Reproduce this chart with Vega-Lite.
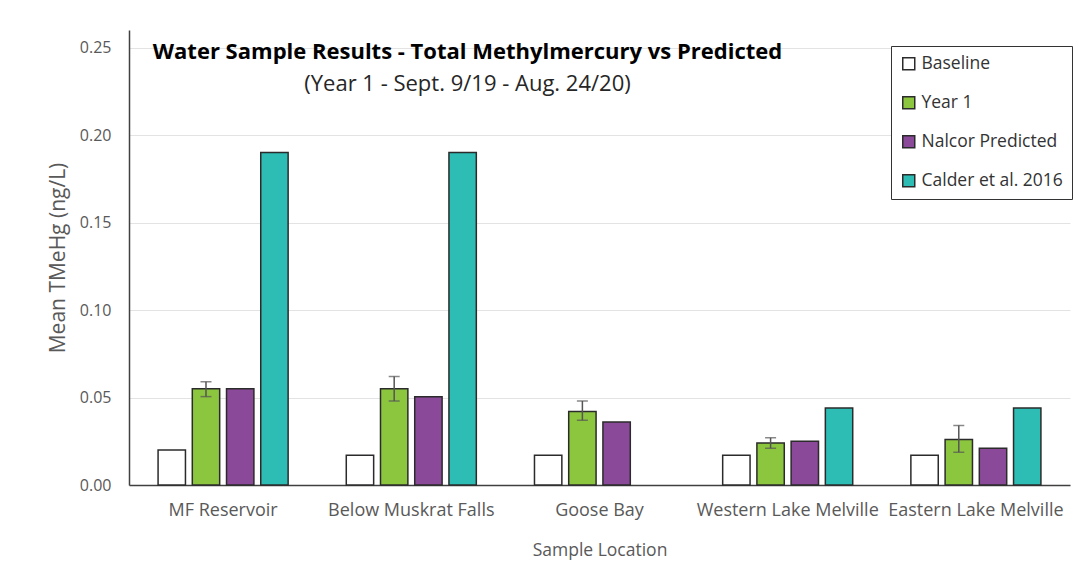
{
  "$schema": "https://vega.github.io/schema/vega-lite/v6.json",
  "autosize": "none",
  "width": 941,
  "height": 455,
  "padding": {"left": 129, "top": 30, "right": 14, "bottom": 96},
  "background": "white",
  "config": {
    "font": "Open Sans",
    "view": {"stroke": null},
    "axis": {"labelColor": "#595959", "titleColor": "#595959", "labelFont": "Open Sans", "titleFont": "Open Sans", "titleFontWeight": "normal"}
  },
  "title": {
    "text": "Water Sample Results - Total Methylmercury vs Predicted",
    "subtitle": "(Year 1 - Sept. 9/19 - Aug. 24/20)",
    "anchor": "middle",
    "frame": "group",
    "orient": "top",
    "offset": -66,
    "dx": -132,
    "font": "Open Sans",
    "fontSize": 22,
    "fontWeight": "bold",
    "color": "#000000",
    "subtitleFont": "Open Sans",
    "subtitleFontSize": 22,
    "subtitleColor": "#262626",
    "subtitlePadding": 10
  },
  "data": {
    "values": [
      {"location": "MF Reservoir", "series": "Baseline", "value": 0.020},
      {"location": "MF Reservoir", "series": "Year 1", "value": 0.055, "lo": 0.0505, "hi": 0.059},
      {"location": "MF Reservoir", "series": "Nalcor Predicted", "value": 0.055},
      {"location": "MF Reservoir", "series": "Calder et al. 2016", "value": 0.19},
      {"location": "Below Muskrat Falls", "series": "Baseline", "value": 0.017},
      {"location": "Below Muskrat Falls", "series": "Year 1", "value": 0.055, "lo": 0.048, "hi": 0.062},
      {"location": "Below Muskrat Falls", "series": "Nalcor Predicted", "value": 0.0505},
      {"location": "Below Muskrat Falls", "series": "Calder et al. 2016", "value": 0.19},
      {"location": "Goose Bay", "series": "Baseline", "value": 0.017},
      {"location": "Goose Bay", "series": "Year 1", "value": 0.042, "lo": 0.037, "hi": 0.048},
      {"location": "Goose Bay", "series": "Nalcor Predicted", "value": 0.036},
      {"location": "Western Lake Melville", "series": "Baseline", "value": 0.017},
      {"location": "Western Lake Melville", "series": "Year 1", "value": 0.024, "lo": 0.021, "hi": 0.027},
      {"location": "Western Lake Melville", "series": "Nalcor Predicted", "value": 0.025},
      {"location": "Western Lake Melville", "series": "Calder et al. 2016", "value": 0.044},
      {"location": "Eastern Lake Melville", "series": "Baseline", "value": 0.017},
      {"location": "Eastern Lake Melville", "series": "Year 1", "value": 0.026, "lo": 0.0187, "hi": 0.034},
      {"location": "Eastern Lake Melville", "series": "Nalcor Predicted", "value": 0.021},
      {"location": "Eastern Lake Melville", "series": "Calder et al. 2016", "value": 0.044}
    ]
  },
  "encoding": {
    "x": {
      "field": "location",
      "type": "nominal",
      "sort": ["MF Reservoir", "Below Muskrat Falls", "Goose Bay", "Western Lake Melville", "Eastern Lake Melville"],
      "scale": {"paddingInner": 0.309, "paddingOuter": 0.1545},
      "axis": {"title": "Sample Location", "labelAngle": 0, "ticks": false, "domainColor": "#404040", "domainWidth": 1.5, "labelFontSize": 18, "labelPadding": 16, "labelLimit": 0, "labelOverlap": false, "titleFontSize": 17.5, "titlePadding": 22},
      "title": "Sample Location"
    },
    "xOffset": {
      "field": "series",
      "type": "nominal",
      "scale": {"domain": ["Baseline", "Year 1", "Nalcor Predicted", "Calder et al. 2016"], "paddingInner": 0.2, "paddingOuter": 0}
    }
  },
  "layer": [
    {
      "mark": {"type": "bar", "stroke": "#2b2b2b", "strokeWidth": 1.5},
      "encoding": {
        "y": {
          "field": "value",
          "type": "quantitative",
          "scale": {"domain": [0, 0.25]},
          "axis": {"title": "Mean TMeHg (ng/L)", "values": [0, 0.05, 0.1, 0.15, 0.2, 0.25], "format": ".2f", "ticks": false, "domain": true, "domainColor": "#404040", "domainWidth": 1.5, "gridColor": "#e3e3e3", "labelFontSize": 16, "labelPadding": 18, "titleFontSize": 21, "titlePadding": 11}
        },
        "color": {
          "field": "series",
          "type": "nominal",
          "scale": {"domain": ["Baseline", "Year 1", "Nalcor Predicted", "Calder et al. 2016"], "range": ["#ffffff", "#8cc63f", "#8b4a99", "#2dbdb5"]},
          "legend": {
            "title": null,
            "orient": "none",
            "legendX": 762,
            "legendY": 16,
            "symbolType": "square",
            "symbolSize": 144,
            "symbolStrokeColor": "#2b2b2b",
            "symbolStrokeWidth": 1.5,
            "labelFontSize": 17.5,
            "labelColor": "#333333",
            "labelFont": "Open Sans",
            "rowPadding": 20,
            "padding": 9,
            "strokeColor": "#333333",
            "fillColor": "#ffffff",
            "labelOffset": 4
          }
        }
      }
    },
    {
      "transform": [{"filter": "datum.hi != null"}],
      "mark": {"type": "rule", "color": "#555555", "strokeWidth": 1.5},
      "encoding": {
        "y": {"field": "lo", "type": "quantitative"},
        "y2": {"field": "hi"}
      }
    },
    {
      "transform": [{"filter": "datum.hi != null"}],
      "mark": {"type": "tick", "color": "#555555", "thickness": 1.5, "size": 11},
      "encoding": {"y": {"field": "lo", "type": "quantitative"}}
    },
    {
      "transform": [{"filter": "datum.hi != null"}],
      "mark": {"type": "tick", "color": "#555555", "thickness": 1.5, "size": 11},
      "encoding": {"y": {"field": "hi", "type": "quantitative"}}
    }
  ]
}
